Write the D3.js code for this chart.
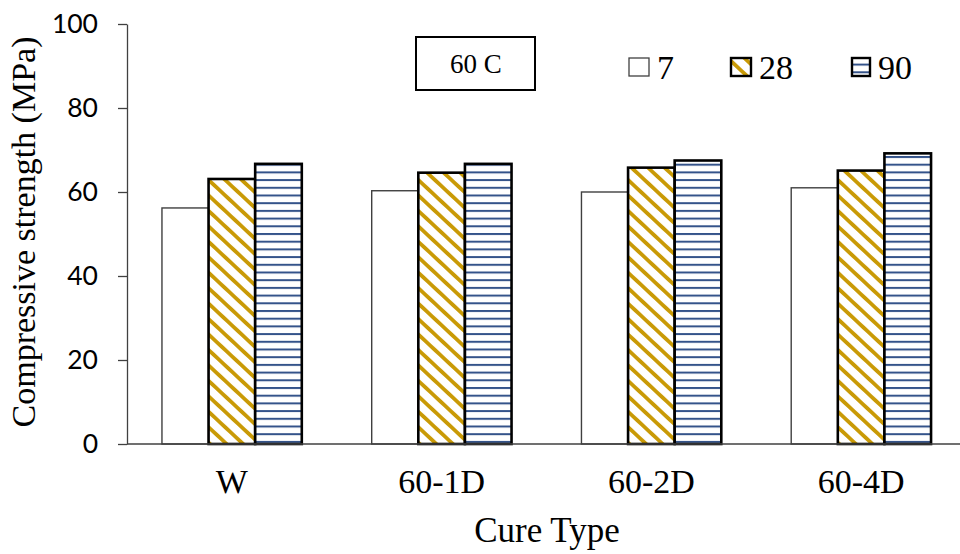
<!DOCTYPE html>
<html>
<head>
<meta charset="utf-8">
<script src="https://cdn.jsdelivr.net/npm/d3@7"></script>
<style>
  html, body { margin: 0; padding: 0; background: #fff; }
  svg { display: block; }
</style>
</head>
<body>
<div id="chart"></div>
<script>
// ---- data ----
const categories = ["W", "60-1D", "60-2D", "60-4D"];
const seriesNames = ["7", "28", "90"];
const values7 = [56.2, 60.3, 60.0, 61.0];
const values28 = [63.1, 64.6, 65.8, 65.1];
const values90 = [66.7, 66.7, 67.5, 69.2];
const yTicks = [0, 20, 40, 60, 80, 100];
const boxLabel = "60 C";
const yTitle = "Compressive strength (MPa)";
const xTitle = "Cure Type";

const seriesValues = [values7, values28, values90];

const W = 960, H = 554;
const svg = d3.select("#chart").append("svg").attr("width", W).attr("height", H);
const serif = "'Liberation Serif', 'Times New Roman', serif";

// patterns
const defs = svg.append("defs");
const hatch = defs.append("pattern")
  .attr("id", "hatch").attr("patternUnits", "userSpaceOnUse")
  .attr("width", 11.3).attr("height", 11.3)
  .attr("patternTransform", "rotate(-47)");
hatch.append("rect").attr("width", 11.3).attr("height", 11.3).attr("fill", "#fff");
hatch.append("rect").attr("x", 0).attr("width", 3.8).attr("height", 11.3).attr("fill", "#C99A06");

const stripe = defs.append("pattern")
  .attr("id", "stripe").attr("patternUnits", "userSpaceOnUse")
  .attr("width", 10).attr("height", 7.7).attr("y", 2);
stripe.append("rect").attr("width", 10).attr("height", 7.7).attr("fill", "#fff");
stripe.append("rect").attr("y", 0).attr("width", 10).attr("height", 2).attr("fill", "#34538a");

const fills = ["#ffffff", "url(#hatch)", "url(#stripe)"];
const strokes = ["#404040", "#000", "#000"];
const strokeW = [1.4, 2.6, 2.6];

// scales
const x0 = d3.scaleBand().domain(categories).range([127, 966]).paddingInner(1/3).paddingOuter(1/6);
const x1 = d3.scaleBand().domain(seriesNames).range([0, x0.bandwidth()]);
const y = d3.scaleLinear().domain([0, 100]).range([444, 24]);

// bars
const groups = svg.append("g").selectAll("g").data(categories).join("g")
  .attr("transform", d => `translate(${x0(d)},0)`);
groups.each(function(cat, ci) {
  const g = d3.select(this);
  seriesNames.forEach((s, si) => {
    const v = seriesValues[si][ci];
    g.append("rect")
      .attr("x", x1(s))
      .attr("y", y(v))
      .attr("width", x1.bandwidth())
      .attr("height", y(0) - y(v))
      .attr("fill", fills[si])
      .attr("stroke", strokes[si])
      .attr("stroke-width", strokeW[si]);
  });
});

// y axis
const yAxis = svg.append("g").attr("transform", "translate(127,0)")
  .call(d3.axisLeft(y).tickValues(yTicks).tickSize(9).tickSizeOuter(0).tickPadding(20));
yAxis.select(".domain").attr("stroke", "#404040").attr("stroke-width", 1.3);
yAxis.selectAll(".tick line").attr("stroke", "#404040").attr("stroke-width", 1.3);
yAxis.selectAll(".tick text")
  .attr("font-family", "Lato, 'Open Sans', sans-serif")
  .attr("font-size", 26.5).attr("fill", "#000").attr("x", -29);

// x axis
const xAxis = svg.append("g").attr("transform", "translate(0,444)")
  .call(d3.axisBottom(x0).tickSize(0).tickSizeOuter(0));
xAxis.attr("font-family", serif);
xAxis.select(".domain").attr("d", "M127,0H960").attr("stroke", "#404040").attr("stroke-width", 1.3);
xAxis.selectAll(".tick text")
  .attr("font-family", serif)
  .attr("font-size", 34).attr("fill", "#000")
  .attr("dy", null).attr("y", 49);

// titles
svg.append("text")
  .attr("transform", "translate(35,232) rotate(-90)")
  .attr("text-anchor", "middle")
  .attr("font-family", serif)
  .attr("font-size", 34).text(yTitle);

svg.append("text")
  .attr("x", 547).attr("y", 542)
  .attr("text-anchor", "middle")
  .attr("font-family", serif)
  .attr("font-size", 35).text(xTitle);

// 60 C box
svg.append("rect").attr("x", 416).attr("y", 37).attr("width", 119).attr("height", 53)
  .attr("fill", "#fff").attr("stroke", "#000").attr("stroke-width", 2);
svg.append("text").attr("x", 476).attr("y", 73).attr("text-anchor", "middle")
  .attr("font-family", serif)
  .attr("font-size", 27).text(boxLabel);

// legend
const legX = [629, 731, 852];
const legBoxW = [20, 20, 18];
const leg = svg.append("g");
seriesNames.forEach((s, i) => {
  leg.append("rect").attr("x", legX[i]).attr("y", 58).attr("width", legBoxW[i]).attr("height", 18)
    .attr("fill", fills[i]).attr("stroke", i === 0 ? "#404040" : "#000")
    .attr("stroke-width", i === 0 ? 1.3 : 2.4);
  leg.append("text").attr("x", legX[i] + legBoxW[i] + 8).attr("y", 79)
    .attr("font-family", serif)
    .attr("font-size", 34).text(s);
});
</script>
</body>
</html>
